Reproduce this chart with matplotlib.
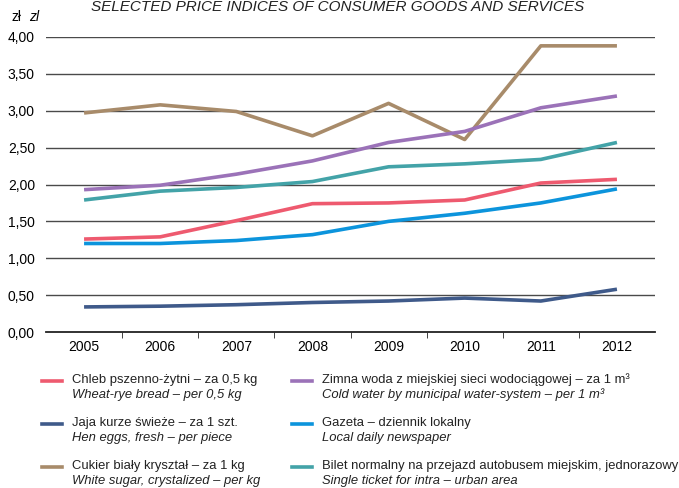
import numpy as np
import matplotlib
matplotlib.use('Agg')
import matplotlib.pyplot as plt
from matplotlib.lines import Line2D
from matplotlib.ticker import FuncFormatter, FixedLocator

plt.rcParams['font.family'] = ['Liberation Sans', 'DejaVu Sans']

years = ['2005', '2006', '2007', '2008', '2009', '2010', '2011', '2012']

bread = [1.26, 1.29, 1.51, 1.74, 1.75, 1.79, 2.02, 2.07]
eggs = [0.34, 0.35, 0.37, 0.40, 0.42, 0.46, 0.42, 0.58]
sugar = [2.97, 3.08, 2.99, 2.66, 3.10, 2.61, 3.88, 3.88]
water = [1.93, 1.99, 2.14, 2.32, 2.57, 2.72, 3.04, 3.20]
paper = [1.20, 1.20, 1.24, 1.32, 1.50, 1.61, 1.75, 1.94]
ticket = [1.79, 1.91, 1.96, 2.04, 2.24, 2.28, 2.34, 2.57]

labels_pl = ['Chleb pszenno-żytni – za 0,5 kg',
             'Jaja kurze świeże – za 1 szt.',
             'Cukier biały kryształ – za 1 kg',
             'Zimna woda z miejskiej sieci wodociągowej – za 1 m³',
             'Gazeta – dziennik lokalny',
             'Bilet normalny na przejazd autobusem miejskim, jednorazowy']
labels_en = ['Wheat-rye bread – per 0,5 kg',
             'Hen eggs, fresh – per piece',
             'White sugar, crystalized – per kg',
             'Cold water by municipal water-system – per 1 m³',
             'Local daily newspaper',
             'Single ticket for intra – urban area']
colors = ['#ee5a6f', '#3f5a8a', '#a88b6a', '#9b72b8', '#0c94dc', '#43a3a8']
series = [bread, eggs, sugar, water, paper, ticket]

fig = plt.figure(figsize=(6.79, 4.88), dpi=100)
ax = fig.add_axes([46 / 679, 1 - 332 / 488, 609 / 679, 295 / 488])

for v in np.arange(0.5, 4.01, 0.5):
    ax.axhline(v, color='#4a4a4a', lw=1.0, zorder=1)

x = np.arange(len(years))
for s, c in zip(series, colors):
    ax.plot(x, s, color=c, lw=2.6, solid_capstyle='butt', zorder=3)

ax.set_xlim(-0.5, 7.5)
ax.set_ylim(0, 4.0)
ax.set_yticks(np.arange(0, 4.01, 0.5))
ax.yaxis.set_major_formatter(FuncFormatter(lambda v, p: f'{v:.2f}'.replace('.', ',')))
ax.tick_params(axis='y', length=0, pad=8, labelsize=10)
ax.set_xticks(x)
ax.set_xticklabels(years)
ax.xaxis.set_minor_locator(FixedLocator(np.arange(0.5, 7.5, 1)))
ax.tick_params(axis='x', which='major', length=0, pad=6, labelsize=10)
ax.tick_params(axis='x', which='minor', length=4, direction='out', color='#222')
for side in ['left', 'right', 'top']:
    ax.spines[side].set_visible(False)
ax.spines['bottom'].set_color('#222')
ax.spines['bottom'].set_linewidth(1.3)

fig.text(0.497, 1.0, 'SELECTED PRICE INDICES OF CONSUMER GOODS AND SERVICES',
         ha='center', va='top', fontsize=11, style='italic', color='#222')
fig.text(11 / 679, 1 - 17 / 488, 'zł', ha='left', va='center', fontsize=10)
fig.text(29 / 679, 1 - 17 / 488, 'zl', ha='left', va='center', fontsize=10, style='italic')

# legend, 2 columns x 3 rows
col_x = [42, 292]
row_y = [381, 424, 467]
for i in range(6):
    cx = col_x[i // 3]
    ry = row_y[i % 3]
    fig.add_artist(Line2D([cx / 679, (cx + 20) / 679], [1 - ry / 488, 1 - ry / 488],
                          color=colors[i], lw=2.6, transform=fig.transFigure))
    fig.text((cx + 30) / 679, 1 - (ry - 1) / 488, labels_pl[i], ha='left', va='center',
             fontsize=9.4, color='#222')
    fig.text((cx + 30) / 679, 1 - (ry + 14) / 488, labels_en[i], ha='left', va='center',
             fontsize=9.4, style='italic', color='#222')

fig.savefig('out.png', dpi=100)
